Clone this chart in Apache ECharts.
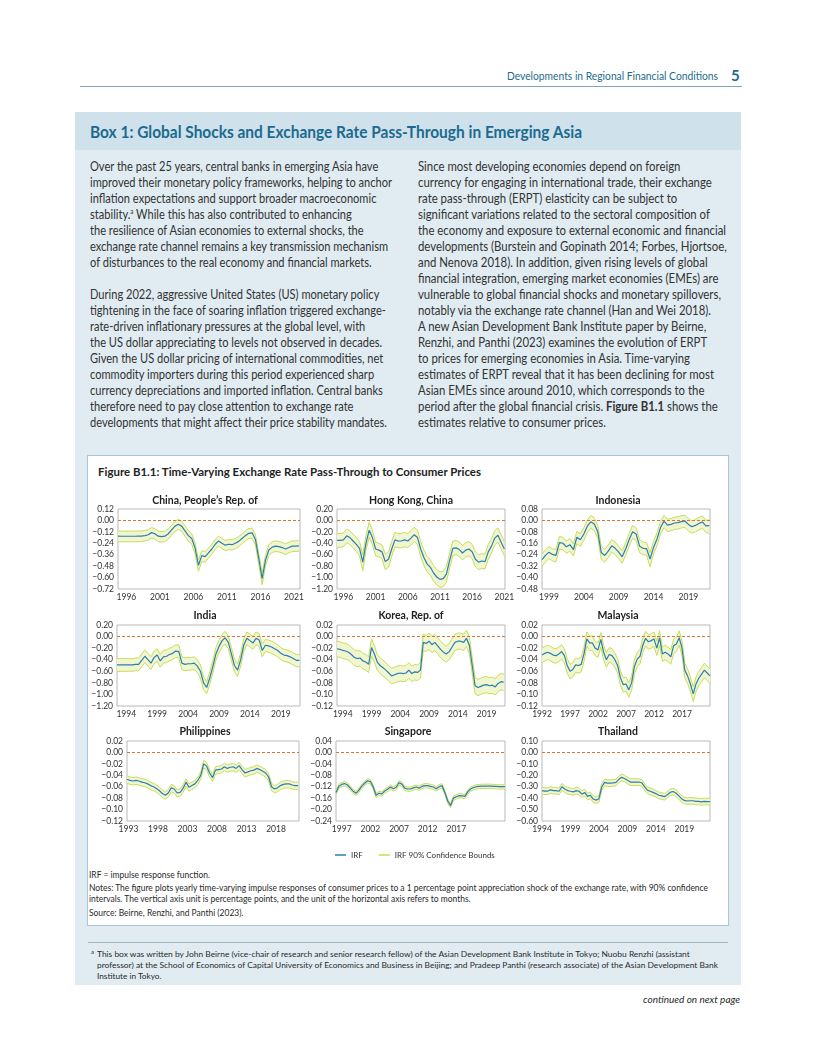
<!DOCTYPE html>
<html><head><meta charset="utf-8">
<script src="https://cdn.jsdelivr.net/npm/echarts@6/dist/echarts.min.js"></script>
<style>
html,body{margin:0;padding:0;background:#fff;}
body{width:816px;height:1056px;position:relative;overflow:hidden;font-family:Lato,"Noto Sans",sans-serif;color:#2a2a2a;}
.abs{position:absolute;white-space:nowrap;}
.col{position:absolute;font-size:12.5px;line-height:16px;color:#333;transform-origin:0 0;}
.col div{white-space:nowrap;height:16px;}
.col span{display:inline-block;}
sup{font-size:7px;line-height:0;vertical-align:5px;}
.fit{display:inline-block;transform-origin:0 50%;}
</style></head><body>

<div class="abs" style="left:0;top:69px;width:718px;text-align:right;font-size:11px;color:#1d6b8c;"><span class="fit" id="hdr">Developments in Regional Financial Conditions</span></div>
<div class="abs" style="left:731px;top:66px;font-size:15px;font-weight:bold;color:#1d6b8c;">5</div>
<div class="abs" style="left:80px;top:86px;width:662px;height:1px;background:#7fa6b8;"></div>

<div class="abs" style="left:75px;top:112px;width:666px;height:873px;background:#e0ecf2;"></div>
<div class="abs" style="left:75px;top:112px;width:666px;height:38px;background:#cfe1eb;"></div>
<div class="abs" style="left:90px;top:121px;font-size:17px;font-weight:bold;color:#1b6a8f;"><span class="fit" id="boxTitle">Box 1: Global Shocks and Exchange Rate Pass-Through in Emerging Asia</span></div>

<div class="col" id="colL" style="left:90px;top:159px;">
<div><span>Over the past 25 years, central banks in emerging Asia have</span></div>
<div><span id="refL">improved their monetary policy frameworks, helping to anchor</span></div>
<div><span>inflation expectations and support broader macroeconomic</span></div>
<div><span>stability.<sup>a</sup> While this has also contributed to enhancing</span></div>
<div><span>the resilience of Asian economies to external shocks, the</span></div>
<div><span>exchange rate channel remains a key transmission mechanism</span></div>
<div><span>of disturbances to the real economy and financial markets.</span></div>
<div></div>
<div><span>During 2022, aggressive United States (US) monetary policy</span></div>
<div><span>tightening in the face of soaring inflation triggered exchange-</span></div>
<div><span>rate-driven inflationary pressures at the global level, with</span></div>
<div><span>the US dollar appreciating to levels not observed in decades.</span></div>
<div><span>Given the US dollar pricing of international commodities, net</span></div>
<div><span>commodity importers during this period experienced sharp</span></div>
<div><span>currency depreciations and imported inflation. Central banks</span></div>
<div><span>therefore need to pay close attention to exchange rate</span></div>
<div><span>developments that might affect their price stability mandates.</span></div>
</div>

<div class="col" id="colR" style="left:418px;top:159px;">
<div><span>Since most developing economies depend on foreign</span></div>
<div><span>currency for engaging in international trade, their exchange</span></div>
<div><span>rate pass-through (ERPT) elasticity can be subject to</span></div>
<div><span>significant variations related to the sectoral composition of</span></div>
<div><span>the economy and exposure to external economic and financial</span></div>
<div><span>developments (Burstein and Gopinath 2014; Forbes, Hjortsoe,</span></div>
<div><span>and Nenova 2018). In addition, given rising levels of global</span></div>
<div><span>financial integration, emerging market economies (EMEs) are</span></div>
<div><span id="refR">vulnerable to global financial shocks and monetary spillovers,</span></div>
<div><span>notably via the exchange rate channel (Han and Wei 2018).</span></div>
<div><span>A new Asian Development Bank Institute paper by Beirne,</span></div>
<div><span>Renzhi, and Panthi (2023) examines the evolution of ERPT</span></div>
<div><span>to prices for emerging economies in Asia. Time-varying</span></div>
<div><span>estimates of ERPT reveal that it has been declining for most</span></div>
<div><span>Asian EMEs since around 2010, which corresponds to the</span></div>
<div><span>period after the global financial crisis. <b>Figure B1.1</b> shows the</span></div>
<div><span>estimates relative to consumer prices.</span></div>
</div>

<div class="abs" style="left:87px;top:455px;width:640px;height:469px;background:#fff;border:1px solid #a7c7d8;"></div>
<div class="abs" style="left:98px;top:465px;font-size:11px;font-weight:bold;color:#222;"><span class="fit" id="figTitle">Figure B1.1: Time-Varying Exchange Rate Pass-Through to Consumer Prices</span></div>
<div id="chart" class="abs" style="left:87px;top:455px;width:642px;height:410px;"></div>

<div class="abs" style="left:89px;top:870px;font-size:8.5px;color:#2a2a2a;line-height:11.5px;">
<div><span class="fit">IRF = impulse response function.</span></div>
<div style="margin-top:1px"><span class="fit" id="notes1">Notes: The figure plots yearly time-varying impulse responses of consumer prices to a 1 percentage point appreciation shock of the exchange rate, with 90% confidence</span></div>
<div><span class="fit" id="notes2">intervals. The vertical axis unit is percentage points, and the unit of the horizontal axis refers to months.</span></div>
<div style="margin-top:2.5px"><span class="fit" id="src">Source: Beirne, Renzhi, and Panthi (2023).</span></div>
</div>

<div class="abs" style="left:88px;top:942px;width:640px;height:1px;background:#9fb6c3;"></div>
<div class="abs" style="left:91px;top:948px;font-size:6px;color:#2a2a2a;">a</div>
<div class="abs" style="left:97px;top:949px;font-size:8.3px;color:#2a2a2a;line-height:11px;">
<div><span class="fit" id="fn1">This box was written by John Beirne (vice-chair of research and senior research fellow) of the Asian Development Bank Institute in Tokyo; Nuobu Renzhi (assistant</span></div>
<div><span class="fit" id="fn2">professor) at the School of Economics of Capital University of Economics and Business in Beijing; and Pradeep Panthi (research associate) of the Asian Development Bank</span></div>
<div><span class="fit">Institute in Tokyo.</span></div>
</div>

<div class="abs" style="left:0;top:993px;width:740px;text-align:right;font-size:10px;font-style:italic;color:#2a2a2a;">continued on next page</div>

<script>
// ---------------- DATA (semi-annual readings) ----------------
const chinaYears = [1996, 2001, 2006, 2011, 2016, 2021];
const chinaStart = 1994.75;
const chinaIRF = [-0.165,-0.166,-0.166,-0.166,-0.166,-0.166,-0.165,-0.165,-0.160,-0.150,-0.128,-0.140,-0.165,-0.170,-0.165,-0.140,-0.100,-0.060,-0.040,-0.060,-0.110,-0.160,-0.190,-0.290,-0.470,-0.370,-0.380,-0.340,-0.300,-0.250,-0.215,-0.240,-0.260,-0.250,-0.255,-0.240,-0.220,-0.190,-0.160,-0.135,-0.130,-0.200,-0.400,-0.610,-0.420,-0.310,-0.280,-0.270,-0.275,-0.285,-0.300,-0.285,-0.270,-0.270,-0.268];
const chinaHi = [-0.110,-0.112,-0.112,-0.112,-0.112,-0.112,-0.111,-0.111,-0.106,-0.096,-0.075,-0.087,-0.112,-0.117,-0.112,-0.088,-0.050,-0.010,0.012,-0.008,-0.058,-0.108,-0.140,-0.238,-0.415,-0.318,-0.328,-0.290,-0.250,-0.200,-0.165,-0.190,-0.210,-0.200,-0.205,-0.190,-0.170,-0.140,-0.110,-0.085,-0.080,-0.150,-0.345,-0.550,-0.365,-0.255,-0.225,-0.215,-0.220,-0.230,-0.245,-0.230,-0.215,-0.215,-0.213];
const chinaLo = [-0.222,-0.224,-0.224,-0.224,-0.224,-0.224,-0.222,-0.222,-0.216,-0.206,-0.184,-0.196,-0.222,-0.228,-0.222,-0.196,-0.155,-0.115,-0.095,-0.115,-0.166,-0.218,-0.250,-0.352,-0.535,-0.430,-0.440,-0.396,-0.355,-0.305,-0.270,-0.296,-0.316,-0.306,-0.311,-0.296,-0.276,-0.245,-0.215,-0.190,-0.186,-0.258,-0.462,-0.675,-0.480,-0.368,-0.337,-0.326,-0.331,-0.341,-0.357,-0.341,-0.326,-0.326,-0.324];

const hkYears = [1996, 2001, 2006, 2011, 2016, 2021];
const hkStart = 1995.0;
const hkIRF = [-0.35,-0.35,-0.34,-0.27,-0.30,-0.36,-0.42,-0.49,-0.73,-0.40,-0.17,-0.30,-0.50,-0.52,-0.55,-0.72,-0.68,-0.50,-0.34,-0.36,-0.36,-0.34,-0.36,-0.31,-0.25,-0.30,-0.50,-0.65,-0.76,-0.82,-0.92,-0.99,-1.03,-1.02,-0.94,-0.70,-0.49,-0.48,-0.51,-0.57,-0.52,-0.50,-0.55,-0.68,-0.73,-0.71,-0.72,-0.55,-0.45,-0.31,-0.26,-0.38,-0.50];
const hkHi = [-0.23,-0.23,-0.22,-0.15,-0.18,-0.24,-0.30,-0.37,-0.60,-0.27,-0.03,-0.17,-0.38,-0.40,-0.43,-0.59,-0.55,-0.37,-0.21,-0.23,-0.23,-0.21,-0.23,-0.18,-0.12,-0.17,-0.37,-0.52,-0.63,-0.69,-0.79,-0.86,-0.90,-0.89,-0.81,-0.57,-0.36,-0.35,-0.38,-0.44,-0.39,-0.37,-0.42,-0.55,-0.60,-0.58,-0.59,-0.42,-0.32,-0.18,-0.13,-0.25,-0.37];
const hkLo = [-0.47,-0.47,-0.46,-0.39,-0.42,-0.48,-0.54,-0.62,-0.88,-0.53,-0.29,-0.42,-0.62,-0.64,-0.67,-0.86,-0.82,-0.63,-0.46,-0.48,-0.48,-0.46,-0.48,-0.43,-0.37,-0.42,-0.63,-0.79,-0.90,-0.96,-1.06,-1.13,-1.17,-1.16,-1.08,-0.83,-0.61,-0.60,-0.63,-0.69,-0.64,-0.62,-0.67,-0.81,-0.86,-0.84,-0.85,-0.68,-0.57,-0.43,-0.38,-0.50,-0.62];

const idnYears = [1999, 2004, 2009, 2014, 2019];
const idnStart = 1998.0;
const idnIRF = [-0.275,-0.245,-0.222,-0.238,-0.245,-0.155,-0.160,-0.185,-0.170,-0.205,-0.118,-0.135,-0.095,-0.040,-0.010,-0.025,-0.080,-0.225,-0.245,-0.215,-0.178,-0.195,-0.222,-0.255,-0.200,-0.135,-0.080,-0.095,-0.180,-0.195,-0.198,-0.270,-0.190,-0.130,-0.050,-0.005,-0.033,-0.028,-0.018,-0.015,-0.008,-0.004,-0.028,-0.044,-0.035,-0.022,-0.010,-0.038,-0.037];
const idnHi = [-0.235,-0.205,-0.182,-0.198,-0.205,-0.112,-0.118,-0.143,-0.128,-0.163,-0.076,-0.093,-0.053,0.002,0.035,0.018,-0.036,-0.182,-0.202,-0.172,-0.135,-0.152,-0.180,-0.213,-0.157,-0.092,-0.036,-0.052,-0.137,-0.152,-0.155,-0.225,-0.146,-0.087,-0.008,0.035,0.008,0.013,0.023,0.026,0.033,0.037,0.013,-0.003,0.006,0.020,0.032,0.002,0.003];
const idnLo = [-0.320,-0.290,-0.267,-0.283,-0.290,-0.200,-0.205,-0.230,-0.215,-0.250,-0.163,-0.180,-0.140,-0.085,-0.055,-0.070,-0.125,-0.272,-0.292,-0.260,-0.222,-0.240,-0.268,-0.300,-0.245,-0.180,-0.125,-0.140,-0.225,-0.240,-0.243,-0.325,-0.235,-0.175,-0.095,-0.050,-0.078,-0.073,-0.063,-0.060,-0.053,-0.049,-0.073,-0.089,-0.080,-0.067,-0.055,-0.085,-0.090];

const indYears = [1994, 1999, 2004, 2009, 2014, 2019];
const indStart = 1992.5;
const indIRF = [-0.49,-0.49,-0.49,-0.49,-0.49,-0.49,-0.48,-0.48,-0.41,-0.34,-0.40,-0.46,-0.36,-0.32,-0.42,-0.35,-0.34,-0.31,-0.29,-0.25,-0.26,-0.46,-0.48,-0.47,-0.47,-0.46,-0.51,-0.60,-0.80,-0.88,-0.72,-0.52,-0.30,-0.17,-0.07,-0.02,-0.10,-0.30,-0.50,-0.58,-0.40,-0.15,-0.03,-0.07,-0.11,-0.03,-0.06,-0.24,-0.15,-0.16,-0.18,-0.21,-0.24,-0.29,-0.32,-0.33,-0.35,-0.38,-0.41,-0.41];
const indHi = [-0.38,-0.38,-0.38,-0.38,-0.38,-0.38,-0.37,-0.37,-0.30,-0.23,-0.29,-0.35,-0.25,-0.21,-0.31,-0.24,-0.23,-0.20,-0.18,-0.14,-0.15,-0.35,-0.37,-0.36,-0.36,-0.35,-0.40,-0.49,-0.70,-0.78,-0.61,-0.41,-0.19,-0.06,0.04,0.09,0.01,-0.19,-0.39,-0.47,-0.29,-0.04,0.08,0.04,0.00,0.08,0.05,-0.13,-0.05,-0.06,-0.08,-0.11,-0.14,-0.19,-0.22,-0.23,-0.25,-0.28,-0.31,-0.31];
const indLo = [-0.60,-0.60,-0.60,-0.60,-0.60,-0.60,-0.59,-0.59,-0.52,-0.45,-0.51,-0.57,-0.47,-0.43,-0.53,-0.46,-0.45,-0.42,-0.40,-0.36,-0.37,-0.57,-0.59,-0.58,-0.58,-0.57,-0.62,-0.72,-0.92,-0.99,-0.83,-0.63,-0.41,-0.28,-0.18,-0.13,-0.21,-0.41,-0.61,-0.69,-0.51,-0.26,-0.14,-0.18,-0.22,-0.14,-0.17,-0.35,-0.26,-0.27,-0.29,-0.32,-0.35,-0.40,-0.43,-0.44,-0.46,-0.49,-0.52,-0.52];

const korYears = [1994, 1999, 2004, 2009, 2014, 2019];
const korStart = 1993.0;
const korIRF = [-0.021,-0.022,-0.024,-0.025,-0.027,-0.031,-0.036,-0.038,-0.037,-0.042,-0.044,-0.048,-0.019,-0.030,-0.044,-0.050,-0.054,-0.058,-0.063,-0.068,-0.066,-0.064,-0.063,-0.064,-0.063,-0.058,-0.064,-0.061,-0.062,-0.058,-0.010,-0.012,-0.008,-0.014,-0.010,-0.016,-0.022,-0.027,-0.030,-0.026,-0.018,-0.010,-0.008,-0.008,-0.010,-0.003,-0.015,-0.050,-0.085,-0.088,-0.086,-0.084,-0.083,-0.085,-0.084,-0.087,-0.081,-0.078,-0.079];
const korHi = [-0.008,-0.009,-0.011,-0.012,-0.014,-0.018,-0.023,-0.025,-0.024,-0.029,-0.031,-0.035,-0.004,-0.016,-0.031,-0.037,-0.041,-0.045,-0.050,-0.055,-0.053,-0.051,-0.050,-0.051,-0.050,-0.045,-0.051,-0.048,-0.049,-0.045,0.004,0.002,0.006,0.000,0.004,-0.002,-0.008,-0.013,-0.016,-0.012,-0.004,0.004,0.006,0.006,0.004,0.011,-0.001,-0.036,-0.071,-0.074,-0.072,-0.070,-0.069,-0.071,-0.070,-0.073,-0.067,-0.064,-0.065];
const korLo = [-0.035,-0.036,-0.038,-0.039,-0.041,-0.045,-0.050,-0.052,-0.051,-0.056,-0.058,-0.062,-0.034,-0.044,-0.058,-0.064,-0.068,-0.072,-0.077,-0.082,-0.080,-0.078,-0.077,-0.078,-0.077,-0.072,-0.078,-0.075,-0.076,-0.072,-0.024,-0.026,-0.022,-0.028,-0.024,-0.030,-0.036,-0.041,-0.044,-0.040,-0.032,-0.024,-0.022,-0.022,-0.024,-0.017,-0.029,-0.064,-0.099,-0.102,-0.100,-0.098,-0.097,-0.099,-0.098,-0.101,-0.095,-0.092,-0.093];

const mysYears = [1992, 1997, 2002, 2007, 2012, 2017];
const mysStart = 1992.0;
const mysIRF = [-0.032,-0.029,-0.027,-0.029,-0.032,-0.033,-0.030,-0.026,-0.033,-0.050,-0.060,-0.057,-0.049,-0.050,-0.048,-0.030,-0.004,-0.011,-0.011,-0.020,-0.023,-0.005,-0.027,-0.040,-0.031,-0.033,-0.040,-0.050,-0.071,-0.083,-0.082,-0.092,-0.080,-0.052,-0.039,-0.034,-0.015,-0.003,-0.009,-0.007,-0.004,-0.020,-0.002,-0.030,-0.027,-0.030,-0.035,-0.016,-0.013,-0.002,-0.020,-0.058,-0.068,-0.082,-0.099,-0.082,-0.072,-0.065,-0.058,-0.063,-0.068];
const mysHi = [-0.020,-0.017,-0.015,-0.017,-0.020,-0.021,-0.018,-0.014,-0.021,-0.038,-0.048,-0.045,-0.037,-0.038,-0.036,-0.018,0.008,0.001,0.001,-0.008,-0.011,0.007,-0.015,-0.028,-0.019,-0.021,-0.028,-0.038,-0.059,-0.071,-0.070,-0.080,-0.068,-0.040,-0.027,-0.022,-0.003,0.009,0.003,0.005,0.008,-0.008,0.010,-0.018,-0.015,-0.018,-0.023,-0.004,-0.001,0.010,-0.008,-0.046,-0.056,-0.070,-0.087,-0.070,-0.060,-0.053,-0.046,-0.051,-0.056];
const mysLo = [-0.045,-0.042,-0.040,-0.042,-0.045,-0.046,-0.043,-0.039,-0.046,-0.063,-0.073,-0.070,-0.062,-0.063,-0.061,-0.043,-0.017,-0.024,-0.024,-0.033,-0.036,-0.018,-0.040,-0.053,-0.044,-0.046,-0.053,-0.063,-0.084,-0.096,-0.095,-0.105,-0.093,-0.065,-0.052,-0.047,-0.028,-0.016,-0.022,-0.020,-0.017,-0.033,-0.015,-0.043,-0.040,-0.043,-0.048,-0.029,-0.026,-0.015,-0.033,-0.071,-0.081,-0.095,-0.112,-0.095,-0.085,-0.078,-0.071,-0.076,-0.081];

const phlYears = [1993, 1998, 2003, 2008, 2013, 2018];
const phlStart = 1992.75;
const phlIRF = [-0.047,-0.049,-0.050,-0.049,-0.050,-0.052,-0.053,-0.055,-0.058,-0.060,-0.063,-0.067,-0.072,-0.075,-0.071,-0.062,-0.064,-0.071,-0.070,-0.063,-0.052,-0.061,-0.058,-0.055,-0.049,-0.040,-0.020,-0.024,-0.036,-0.044,-0.031,-0.030,-0.029,-0.025,-0.028,-0.026,-0.025,-0.028,-0.023,-0.030,-0.036,-0.034,-0.032,-0.031,-0.028,-0.030,-0.033,-0.036,-0.043,-0.060,-0.064,-0.062,-0.058,-0.056,-0.055,-0.055,-0.057,-0.058,-0.058];
const phlHi = [-0.041,-0.043,-0.044,-0.043,-0.044,-0.046,-0.047,-0.049,-0.052,-0.054,-0.057,-0.061,-0.066,-0.069,-0.065,-0.056,-0.058,-0.065,-0.064,-0.057,-0.046,-0.055,-0.052,-0.049,-0.043,-0.034,-0.014,-0.018,-0.030,-0.038,-0.025,-0.024,-0.023,-0.019,-0.022,-0.020,-0.019,-0.022,-0.017,-0.024,-0.030,-0.028,-0.026,-0.025,-0.022,-0.024,-0.027,-0.030,-0.037,-0.054,-0.058,-0.056,-0.052,-0.050,-0.049,-0.049,-0.051,-0.052,-0.052];
const phlLo = [-0.054,-0.056,-0.057,-0.056,-0.057,-0.059,-0.060,-0.062,-0.065,-0.067,-0.070,-0.074,-0.079,-0.082,-0.078,-0.069,-0.071,-0.078,-0.077,-0.070,-0.059,-0.068,-0.065,-0.062,-0.056,-0.047,-0.027,-0.031,-0.043,-0.051,-0.038,-0.037,-0.036,-0.032,-0.035,-0.033,-0.032,-0.035,-0.030,-0.037,-0.043,-0.041,-0.039,-0.038,-0.035,-0.037,-0.040,-0.043,-0.050,-0.067,-0.071,-0.069,-0.065,-0.063,-0.062,-0.062,-0.064,-0.065,-0.065];

const sgpYears = [1997, 2002, 2007, 2012, 2017];
const sgpStart = 1996.0;
const sgpIRF = [-0.140,-0.118,-0.112,-0.109,-0.114,-0.125,-0.136,-0.143,-0.132,-0.118,-0.108,-0.099,-0.102,-0.121,-0.150,-0.143,-0.145,-0.135,-0.129,-0.121,-0.127,-0.122,-0.106,-0.111,-0.125,-0.128,-0.128,-0.124,-0.121,-0.125,-0.119,-0.116,-0.116,-0.119,-0.121,-0.127,-0.120,-0.116,-0.140,-0.170,-0.186,-0.160,-0.155,-0.151,-0.152,-0.154,-0.138,-0.128,-0.123,-0.120,-0.119,-0.118,-0.118,-0.118,-0.118,-0.119,-0.119,-0.120,-0.120,-0.120];
const sgpHi = [-0.133,-0.111,-0.105,-0.102,-0.107,-0.118,-0.129,-0.136,-0.125,-0.111,-0.101,-0.092,-0.095,-0.114,-0.143,-0.136,-0.138,-0.128,-0.122,-0.114,-0.120,-0.115,-0.099,-0.104,-0.118,-0.121,-0.121,-0.117,-0.114,-0.118,-0.112,-0.109,-0.109,-0.112,-0.114,-0.120,-0.113,-0.109,-0.133,-0.163,-0.179,-0.153,-0.148,-0.144,-0.145,-0.147,-0.131,-0.121,-0.116,-0.113,-0.112,-0.111,-0.111,-0.111,-0.111,-0.112,-0.112,-0.113,-0.113,-0.113];
const sgpLo = [-0.148,-0.126,-0.120,-0.117,-0.122,-0.133,-0.144,-0.151,-0.140,-0.126,-0.116,-0.107,-0.110,-0.129,-0.158,-0.151,-0.153,-0.143,-0.137,-0.129,-0.135,-0.130,-0.114,-0.119,-0.133,-0.136,-0.136,-0.132,-0.129,-0.133,-0.127,-0.124,-0.124,-0.127,-0.129,-0.135,-0.128,-0.124,-0.148,-0.178,-0.194,-0.168,-0.163,-0.159,-0.160,-0.162,-0.146,-0.136,-0.131,-0.128,-0.127,-0.126,-0.126,-0.126,-0.126,-0.127,-0.127,-0.128,-0.128,-0.128];

const thaYears = [1994, 1999, 2004, 2009, 2014, 2019];
const thaStart = 1994.0;
const thaIRF = [-0.334,-0.338,-0.338,-0.328,-0.334,-0.334,-0.340,-0.300,-0.320,-0.334,-0.340,-0.345,-0.334,-0.340,-0.365,-0.350,-0.385,-0.375,-0.408,-0.417,-0.405,-0.300,-0.262,-0.268,-0.268,-0.266,-0.262,-0.235,-0.218,-0.228,-0.244,-0.259,-0.259,-0.259,-0.259,-0.265,-0.300,-0.330,-0.340,-0.350,-0.360,-0.375,-0.380,-0.387,-0.370,-0.350,-0.342,-0.355,-0.378,-0.405,-0.420,-0.425,-0.423,-0.423,-0.428,-0.428,-0.432,-0.428,-0.430,-0.430];
const thaHi = [-0.306,-0.310,-0.310,-0.300,-0.306,-0.306,-0.312,-0.272,-0.292,-0.306,-0.312,-0.317,-0.306,-0.312,-0.337,-0.322,-0.357,-0.347,-0.380,-0.389,-0.377,-0.272,-0.234,-0.240,-0.240,-0.238,-0.234,-0.207,-0.190,-0.200,-0.216,-0.231,-0.231,-0.231,-0.231,-0.237,-0.272,-0.302,-0.312,-0.322,-0.332,-0.347,-0.352,-0.359,-0.342,-0.322,-0.314,-0.327,-0.350,-0.377,-0.392,-0.397,-0.395,-0.395,-0.400,-0.400,-0.404,-0.400,-0.402,-0.402];
const thaLo = [-0.364,-0.368,-0.368,-0.358,-0.364,-0.364,-0.370,-0.330,-0.350,-0.364,-0.370,-0.375,-0.364,-0.370,-0.395,-0.380,-0.415,-0.405,-0.438,-0.447,-0.435,-0.330,-0.292,-0.298,-0.298,-0.296,-0.292,-0.265,-0.248,-0.258,-0.274,-0.289,-0.289,-0.289,-0.289,-0.295,-0.330,-0.360,-0.370,-0.380,-0.390,-0.405,-0.410,-0.417,-0.400,-0.380,-0.372,-0.385,-0.408,-0.435,-0.450,-0.455,-0.453,-0.453,-0.458,-0.458,-0.462,-0.458,-0.460,-0.460];

const STEP = 0.5; // semi-annual readings

// ---------------- LAYOUT ----------------
const panels = [
  {title:'China, People\u2019s Rep. of', start:chinaStart, xmax:2021.9, years:chinaYears, irf:chinaIRF, hi:chinaHi, lo:chinaLo, ymin:-0.72, ymax:0.12, yint:0.12, g:[31,54,182,80], tx:118, ty:46},
  {title:'Hong Kong, China', start:hkStart, xmax:2021.1, years:hkYears, irf:hkIRF, hi:hkHi, lo:hkLo, ymin:-1.2, ymax:0.2, yint:0.2, g:[250,54,168,80], tx:324, ty:46},
  {title:'Indonesia', start:idnStart, xmax:2022.1, years:idnYears, irf:idnIRF, hi:idnHi, lo:idnLo, ymin:-0.48, ymax:0.08, yint:0.08, g:[455,54,168,80], tx:531, ty:46},
  {title:'India', start:indStart, xmax:2022.1, years:indYears, irf:indIRF, hi:indHi, lo:indLo, ymin:-1.2, ymax:0.2, yint:0.2, g:[30,170,183,81], tx:118, ty:161},
  {title:'Korea, Rep. of', start:korStart, xmax:2022.2, years:korYears, irf:korIRF, hi:korHi, lo:korLo, ymin:-0.12, ymax:0.02, yint:0.02, g:[250,170,168,81], tx:324, ty:161},
  {title:'Malaysia', start:mysStart, xmax:2022.0, years:mysYears, irf:mysIRF, hi:mysHi, lo:mysLo, ymin:-0.12, ymax:0.02, yint:0.02, g:[455,170,168,81], tx:531, ty:161},
  {title:'Philippines', start:phlStart, xmax:2021.9, years:phlYears, irf:phlIRF, hi:phlHi, lo:phlLo, ymin:-0.12, ymax:0.02, yint:0.02, g:[40,286,172,80], tx:118, ty:277},
  {title:'Singapore', start:sgpStart, xmax:2025.5, years:sgpYears, irf:sgpIRF, hi:sgpHi, lo:sgpLo, ymin:-0.24, ymax:0.04, yint:0.04, g:[249,286,169,80], tx:321, ty:277},
  {title:'Thailand', start:thaStart, xmax:2023.5, years:thaYears, irf:thaIRF, hi:thaHi, lo:thaLo, ymin:-0.6, ymax:0.1, yint:0.1, g:[455,286,168,80], tx:531, ty:277}
];

const FONT = 'Lato, "Noto Sans", sans-serif';
const C_IRF = '#2b7fae', C_CB = '#c9dc58', C_BAND = '#f1f6d0', C_ZERO = '#d27a34', C_FRAME = '#b9b9b9';

function fmtY(v){ const s = Math.abs(v).toFixed(2); return (v < -1e-9) ? '\u2212' + s : s; }

const grid = [], xAxis = [], yAxis = [], series = [], graphic = [];
panels.forEach((p, i) => {
  const xs = p.irf.map((_, k) => p.start + k * STEP);
  grid.push({left:p.g[0], top:p.g[1], width:p.g[2], height:p.g[3], show:true, borderColor:C_FRAME, borderWidth:1, backgroundColor:'transparent'});
  xAxis.push({type:'value', gridIndex:i, min:p.start, max:p.xmax,
    axisLine:{show:false}, axisTick:{show:false}, splitLine:{show:false},
    axisLabel:{customValues:p.years, formatter:v=>String(v), fontSize:8.5, color:'#333', fontFamily:FONT, margin:4}});
  yAxis.push({type:'value', gridIndex:i, min:p.ymin, max:p.ymax, interval:p.yint,
    axisLine:{show:false}, axisTick:{show:false}, splitLine:{show:false},
    axisLabel:{formatter:fmtY, fontSize:8.5, color:'#333', fontFamily:FONT, margin:4}});
  const band = xs.map((x, k) => [x, p.lo[k], p.hi[k]]);
  series.push({type:'custom', xAxisIndex:i, yAxisIndex:i, silent:true, z:1, data:band, encode:{x:0, y:[1,2]},
    renderItem:(params, api) => {
      if (params.dataIndex !== 0) return null;
      const pts = [];
      for (let k = 0; k < band.length; k++) pts.push(api.coord([band[k][0], band[k][2]]));
      for (let k = band.length - 1; k >= 0; k--) pts.push(api.coord([band[k][0], band[k][1]]));
      return {type:'polygon', shape:{points:pts}, style:{fill:C_BAND}};
    }});
  series.push({type:'line', name:'zero', xAxisIndex:i, yAxisIndex:i, data:[[p.start, 0], [p.xmax, 0]], symbol:'none', silent:true, z:3,
    lineStyle:{color:C_ZERO, width:1.1, type:[3,2]}});
  const lineOpts = (name, arr, color, w, z) => ({type:'line', name, xAxisIndex:i, yAxisIndex:i, data:xs.map((x,k)=>[x, arr[k]]),
    symbol:'none', silent:true, z, lineStyle:{color, width:w}, itemStyle:{color}});
  series.push(lineOpts('IRF 90% Confidence Bounds', p.hi, C_CB, 1, 2));
  series.push(lineOpts('IRF 90% Confidence Bounds', p.lo, C_CB, 1, 2));
  series.push(lineOpts('IRF', p.irf, C_IRF, 1.2, 4));
  graphic.push({type:'text', x:p.tx, y:p.ty, style:{text:p.title, font:'bold 10.5px ' + FONT, fill:'#222', align:'center', verticalAlign:'middle'}});
});

const chart = echarts.init(document.getElementById('chart'), null, {renderer:'canvas'});
chart.setOption({
  animation:false,
  grid, xAxis, yAxis, series, graphic,
  legend:{data:['IRF','IRF 90% Confidence Bounds'], left:243, top:391, icon:'rect', itemWidth:11, itemHeight:1.5, itemGap:16,
    textStyle:{fontSize:8, color:'#333', fontFamily:FONT}}
});

function fitTo(el, w){ const cur = el.getBoundingClientRect().width; if (cur > 0) el.style.transform = 'scaleX(' + (w / cur) + ')'; }
function fitCol(colId, refId, w){ const col = document.getElementById(colId); const ref = document.getElementById(refId);
  const cur = ref.getBoundingClientRect().width; if (cur > 0) col.style.transform = 'scaleX(' + (w / cur) + ')'; }
fitCol('colL', 'refL', 302);
fitCol('colR', 'refR', 303);
fitTo(document.getElementById('boxTitle'), 492);
fitTo(document.getElementById('hdr'), 211);
fitTo(document.getElementById('figTitle'), 383);
fitTo(document.getElementById('notes1'), 619);
fitTo(document.getElementById('fn2'), 621);
(function(){ const n1 = document.getElementById('notes1'); const s = n1.style.transform;
  ['notes2','src'].forEach(id=>{ document.getElementById(id).style.transform = s; });
  const f2 = document.getElementById('fn2').style.transform; document.getElementById('fn1').style.transform = f2;
  document.querySelectorAll('.fit').forEach(el=>{ if(!el.style.transform && el.id!=='hdr') el.style.transform = s; });
})();
(function(){ const h = document.getElementById('hdr'); h.style.transformOrigin = '100% 50%'; })();
</script>
</body></html>
